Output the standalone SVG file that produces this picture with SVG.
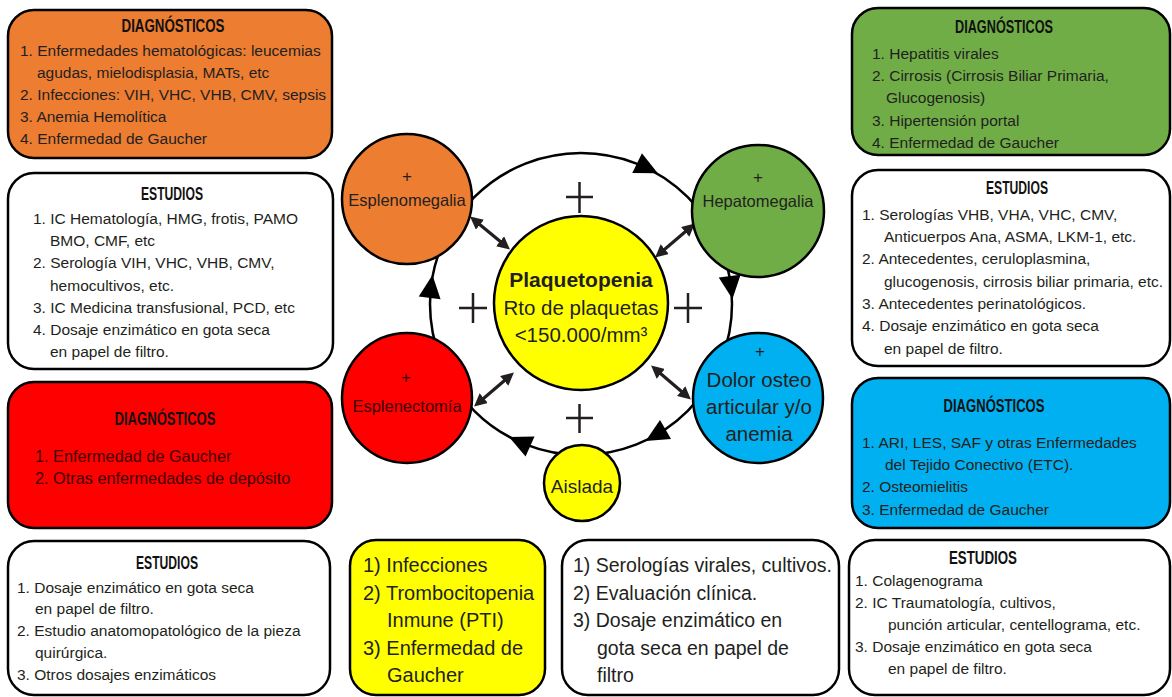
<svg xmlns="http://www.w3.org/2000/svg" width="1172" height="697" viewBox="0 0 1172 697">
  <style>
    text { font-family: "Liberation Sans", Arial, sans-serif; fill: #231f20; }
    .box { stroke: #000; stroke-width: 2.5; }
    .circ { stroke: #000; stroke-width: 2.5; }
    .hdr { font-size: 17.5px; font-weight: bold; text-anchor: middle; fill: #111; }
    .li { font-size: 15.5px; }
    .lr { font-size: 16.3px; fill: #3d0000; }
    .big { font-size: 20px; }
    .mid { font-size: 19.5px; }
    .lbl { font-size: 16.5px; text-anchor: middle; }
    .pl { font-size: 17px; text-anchor: middle; }
    .ctr { font-size: 20.5px; text-anchor: middle; }
    .ring { fill: none; stroke: #000; stroke-width: 2.5; }
    .cross { stroke: #231f20; stroke-width: 2.5; fill: none; }
    .dbl { stroke: #231f20; stroke-width: 3.2; marker-start: url(#dh); marker-end: url(#dh); }
  </style>
  <defs>
    <marker id="dh" viewBox="0 0 10 10" refX="7" refY="5" markerWidth="4" markerHeight="4" orient="auto-start-reverse" markerUnits="strokeWidth">
      <path d="M0,0 L10,5 L0,10 Z" fill="#231f20"/>
    </marker>
    <path id="ah" d="M12,0 L-11,-11 L-11,11 Z" fill="#000"/>
  </defs>

  <!-- cycle ring with flow arrowheads -->
  <g id="connectors">
    <circle class="ring" cx="581" cy="304" r="151"/>
    <use href="#ah" transform="translate(647,168) rotate(26)"/>
    <use href="#ah" transform="translate(731,287) rotate(83)"/>
    <use href="#ah" transform="translate(656,435) rotate(150)"/>
    <use href="#ah" transform="translate(520,442) rotate(204)"/>
    <use href="#ah" transform="translate(431,287) rotate(277)"/>
    <line class="dbl" x1="473" y1="219" x2="507" y2="247"/>
    <line class="dbl" x1="692" y1="226" x2="658" y2="255"/>
    <line class="dbl" x1="477" y1="404" x2="511" y2="375"/>
    <line class="dbl" x1="654" y1="368" x2="688" y2="397"/>
    <path class="cross" d="M566,197 H593 M579.5,182 V213"/>
    <path class="cross" d="M459,308 H487 M473,293 V323"/>
    <path class="cross" d="M674,308 H702 M688,293 V323"/>
    <path class="cross" d="M566,418 H593 M579.5,404 V433"/>
  </g>

  <!-- hub -->
  <g id="plaquetopenia">
    <circle class="circ" cx="581" cy="303" r="87" fill="#FFFF00"/>
    <text class="ctr" x="581" y="287" font-weight="bold" style="font-size:21px">Plaquetopenia</text>
    <text class="ctr" x="581" y="315">Rto de plaquetas</text>
    <text class="ctr" x="581" y="342">&lt;150.000/mm³</text>
  </g>

  <g id="esplenomegalia">
    <circle class="circ" cx="407" cy="199" r="65" fill="#ED7D31"/>
    <text class="pl" x="407" y="182">+</text>
    <text class="lbl" x="407" y="206">Esplenomegalia</text>
  </g>

  <g id="hepatomegalia">
    <circle class="circ" cx="758" cy="211" r="66" fill="#70AD47"/>
    <text class="pl" x="758" y="183">+</text>
    <text class="lbl" x="758" y="207">Hepatomegalia</text>
  </g>

  <g id="esplenectomia">
    <circle class="circ" cx="407" cy="398" r="65" fill="#FF0000"/>
    <text class="pl" x="406" y="383" style="fill:#3d0000">+</text>
    <text class="lbl" x="407" y="412" style="fill:#3d0000">Esplenectomía</text>
  </g>

  <g id="dolor">
    <circle class="circ" cx="758" cy="398" r="65" fill="#00B0F0"/>
    <text class="pl" x="760" y="357">+</text>
    <text class="ctr" x="759" y="387">Dolor osteo</text>
    <text class="ctr" x="759" y="414">articular y/o</text>
    <text class="ctr" x="759" y="441">anemia</text>
  </g>

  <g id="aislada">
    <circle class="circ" cx="582" cy="483" r="38" fill="#FFFF00"/>
    <text class="ctr" x="582" y="493" style="font-size:19px">Aislada</text>
  </g>

  <!-- left column -->
  <g id="dx-esplenomegalia">
    <rect class="box" x="8" y="10" width="324" height="148" rx="26" fill="#ED7D31"/>
    <text class="hdr" x="173" y="32" textLength="103" lengthAdjust="spacingAndGlyphs">DIAGNÓSTICOS</text>
    <text class="li" x="20" y="56">1. Enfermedades hematológicas: leucemias</text>
    <text class="li" x="37" y="78">agudas, mielodisplasia, MATs, etc</text>
    <text class="li" x="20" y="100">2. Infecciones: VIH, VHC, VHB, CMV, sepsis</text>
    <text class="li" x="20" y="122">3. Anemia Hemolítica</text>
    <text class="li" x="20" y="144">4. Enfermedad de Gaucher</text>
  </g>

  <g id="est-esplenomegalia">
    <rect class="box" x="8" y="173" width="325" height="196" rx="26" fill="#fff"/>
    <text class="hdr" x="172" y="200" textLength="62" lengthAdjust="spacingAndGlyphs">ESTUDIOS</text>
    <text class="li" x="33" y="224">1. IC Hematología, HMG, frotis, PAMO</text>
    <text class="li" x="50" y="246">BMO, CMF, etc</text>
    <text class="li" x="33" y="268">2. Serología VIH, VHC, VHB, CMV,</text>
    <text class="li" x="50" y="291">hemocultivos, etc.</text>
    <text class="li" x="33" y="313">3. IC Medicina transfusional, PCD, etc</text>
    <text class="li" x="33" y="335">4. Dosaje enzimático en gota seca</text>
    <text class="li" x="50" y="357">en papel de filtro.</text>
  </g>

  <g id="dx-esplenectomia">
    <rect class="box" x="8" y="382" width="324" height="146" rx="26" fill="#FF0000"/>
    <text class="hdr" x="165" y="425" textLength="101" lengthAdjust="spacingAndGlyphs">DIAGNÓSTICOS</text>
    <text class="lr" x="35" y="462">1. Enfermedad de Gaucher</text>
    <text class="lr" x="35" y="484">2. Otras enfermedades de depósito</text>
  </g>

  <g id="est-esplenectomia">
    <rect class="box" x="8" y="541" width="322" height="154" rx="26" fill="#fff"/>
    <text class="hdr" x="167" y="569" textLength="62" lengthAdjust="spacingAndGlyphs">ESTUDIOS</text>
    <text class="li" x="17" y="593">1. Dosaje enzimático en gota seca</text>
    <text class="li" x="35" y="614">en papel de filtro.</text>
    <text class="li" x="17" y="636">2. Estudio anatomopatológico de la pieza</text>
    <text class="li" x="35" y="658">quirúrgica.</text>
    <text class="li" x="17" y="680">3. Otros dosajes enzimáticos</text>
  </g>

  <!-- bottom middle -->
  <g id="dx-aislada">
    <rect class="box" x="350" y="540" width="195" height="155" rx="26" fill="#FFFF00"/>
    <text class="big" x="363" y="572">1) Infecciones</text>
    <text class="big" x="363" y="600">2) Trombocitopenia</text>
    <text class="big" x="387" y="627">Inmune (PTI)</text>
    <text class="big" x="363" y="655">3) Enfermedad de</text>
    <text class="big" x="387" y="682">Gaucher</text>
  </g>

  <g id="est-aislada">
    <rect class="box" x="562" y="540" width="277" height="155" rx="26" fill="#fff"/>
    <text class="mid" x="573" y="572">1) Serologías virales, cultivos.</text>
    <text class="mid" x="573" y="600">2) Evaluación clínica.</text>
    <text class="mid" x="573" y="627">3) Dosaje enzimático en</text>
    <text class="mid" x="597" y="655">gota seca en papel de</text>
    <text class="mid" x="597" y="682">filtro</text>
  </g>

  <!-- right column -->
  <g id="dx-hepatomegalia">
    <rect class="box" x="852" y="8" width="318" height="147" rx="26" fill="#70AD47"/>
    <text class="hdr" x="1004" y="33" textLength="98" lengthAdjust="spacingAndGlyphs">DIAGNÓSTICOS</text>
    <text class="li" x="872" y="59">1. Hepatitis virales</text>
    <text class="li" x="872" y="81">2. Cirrosis (Cirrosis Biliar Primaria,</text>
    <text class="li" x="886" y="103">Glucogenosis)</text>
    <text class="li" x="872" y="126">3. Hipertensión portal</text>
    <text class="li" x="872" y="148">4. Enfermedad de Gaucher</text>
  </g>

  <g id="est-hepatomegalia">
    <rect class="box" x="852" y="170" width="318" height="196" rx="26" fill="#fff"/>
    <text class="hdr" x="1017" y="194" textLength="62" lengthAdjust="spacingAndGlyphs">ESTUDIOS</text>
    <text class="li" x="862" y="220">1. Serologías VHB, VHA, VHC, CMV,</text>
    <text class="li" x="884" y="242">Anticuerpos Ana, ASMA, LKM-1, etc.</text>
    <text class="li" x="862" y="264">2. Antecedentes, ceruloplasmina,</text>
    <text class="li" x="884" y="287">glucogenosis, cirrosis biliar primaria, etc.</text>
    <text class="li" x="862" y="309">3. Antecedentes perinatológicos.</text>
    <text class="li" x="862" y="331">4. Dosaje enzimático en gota seca</text>
    <text class="li" x="884" y="354">en papel de filtro.</text>
  </g>

  <g id="dx-dolor">
    <rect class="box" x="852" y="378" width="318" height="150" rx="26" fill="#00B0F0"/>
    <text class="hdr" x="994" y="412" textLength="101" lengthAdjust="spacingAndGlyphs">DIAGNÓSTICOS</text>
    <text class="li" x="862" y="448">1. ARI, LES, SAF y otras Enfermedades</text>
    <text class="li" x="885" y="470">del Tejido Conectivo (ETC).</text>
    <text class="li" x="862" y="492">2. Osteomielitis</text>
    <text class="li" x="862" y="515">3. Enfermedad de Gaucher</text>
  </g>

  <g id="est-dolor">
    <rect class="box" x="849" y="540" width="321" height="155" rx="26" fill="#fff"/>
    <text class="hdr" x="983" y="564" textLength="68" lengthAdjust="spacingAndGlyphs">ESTUDIOS</text>
    <text class="li" x="855" y="586">1. Colagenograma</text>
    <text class="li" x="855" y="608">2. IC Traumatología, cultivos,</text>
    <text class="li" x="888" y="630">punción articular, centellograma, etc.</text>
    <text class="li" x="855" y="652">3. Dosaje enzimático en gota seca</text>
    <text class="li" x="888" y="674">en papel de filtro.</text>
  </g>
</svg>
